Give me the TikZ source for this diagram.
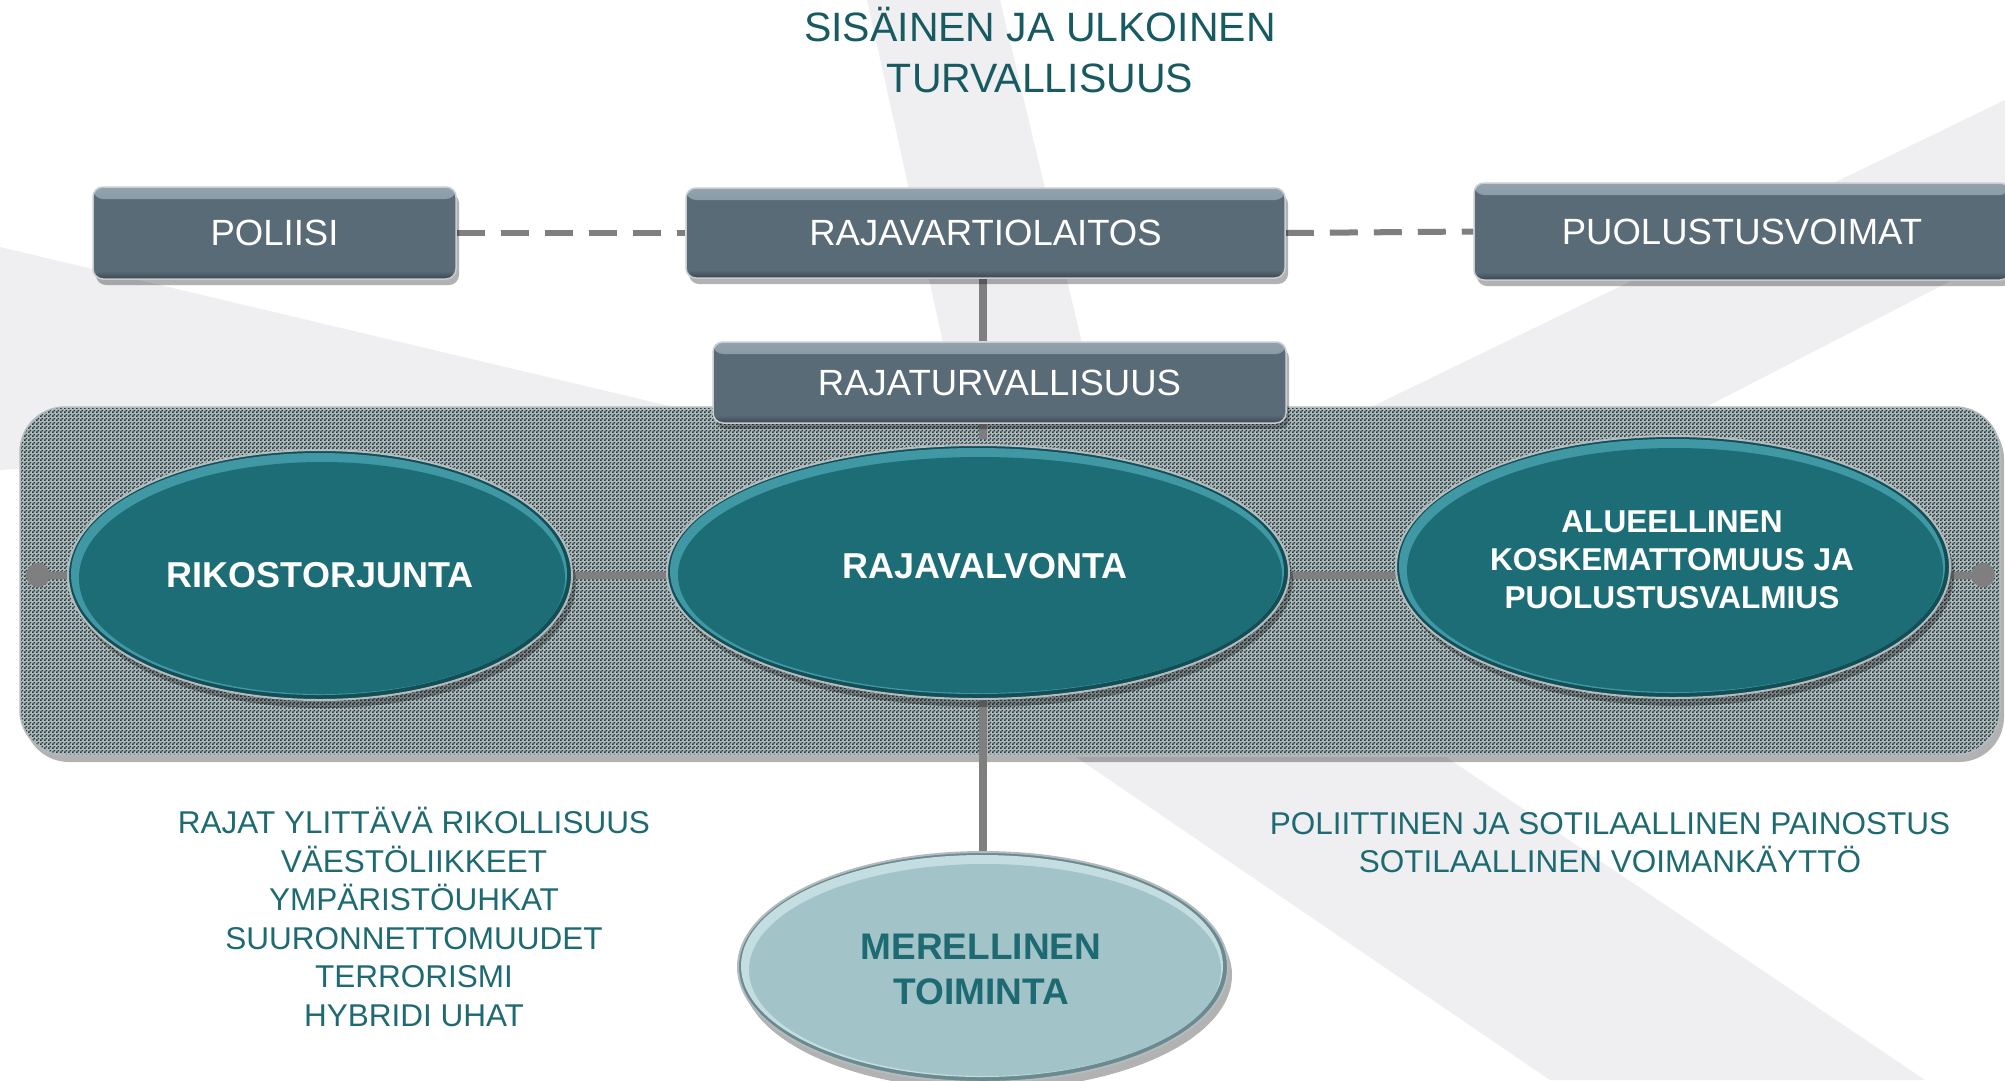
\documentclass[tikz,border=0pt]{standalone}
\usepackage{fontspec}
\setmainfont{Liberation Sans}
\usetikzlibrary{shapes.geometric,shadows,patterns}
\definecolor{slate}{HTML}{5A6B78}
\definecolor{slatehl}{HTML}{93A3AE}
\definecolor{slatedk}{HTML}{3A4650}
\definecolor{boxrim}{HTML}{C9CDD0}
\definecolor{tealbody}{HTML}{1D6D77}
\definecolor{tealhl}{HTML}{3F98A3}
\definecolor{tealdk}{HTML}{124E56}
\definecolor{rimgray}{HTML}{B3BBBE}
\definecolor{lightbody}{HTML}{A2C3C7}
\definecolor{lighthl}{HTML}{C4DDE0}
\definecolor{lightdk}{HTML}{6A8A90}
\definecolor{titleteal}{HTML}{175A62}
\definecolor{textteal}{HTML}{1E6A72}
\definecolor{bggray}{HTML}{EFEFF1}
\definecolor{checkdark}{HTML}{1A3B41}
\definecolor{checklight}{HTML}{B4B9BA}
\definecolor{connector}{HTML}{7F7F7F}
\pgfdeclarepatternformonly{finechecker}{\pgfqpoint{0pt}{0pt}}{\pgfqpoint{4pt}{4pt}}{\pgfqpoint{4pt}{4pt}}{%
  \pgfpathrectangle{\pgfqpoint{0pt}{0pt}}{\pgfqpoint{2pt}{2pt}}%
  \pgfpathrectangle{\pgfqpoint{2pt}{2pt}}{\pgfqpoint{2pt}{2pt}}%
  \pgfusepath{fill}}
\pgfdeclarelayer{back}
\pgfdeclarelayer{lines}
\pgfsetlayers{back,lines,main}
\newcommand{\bevelell}[7]{%
  \fill[black,opacity=.3] (#1+4,#2+8) ellipse [x radius=#3, y radius=#4];
  \filldraw[fill=#5,draw=rimgray,line width=2pt] (#1,#2) ellipse [x radius=#3, y radius=#4];
  \fill[#6] (#1-1,#2-1) ellipse [x radius=#3-4, y radius=#4-4];
  \fill[#7] (#1+2,#2+3) ellipse [x radius=#3-9, y radius=#4-9];
}
\tikzset{
  orgbox/.style={rectangle, rounded corners=10pt, fill=slate, draw=boxrim,
    line width=1.5pt, text=white, inner sep=0pt,
    font=\fontsize{36.5}{40}\selectfont,
    drop shadow={shadow xshift=3pt, shadow yshift=-6pt, opacity=.3, fill=black},
    path picture={
      \shade[top color=slatehl, bottom color=slate]
        (path picture bounding box.north west) rectangle ([yshift=-12pt]path picture bounding box.north east);
      \shade[top color=slate, bottom color=slatedk]
        ([yshift=8pt]path picture bounding box.south west) rectangle (path picture bounding box.south east);
    }},
  ellnode/.style={ellipse, inner sep=0pt, text=white, align=center,
    font=\bfseries\fontsize{36}{43}\selectfont},
  listtext/.style={text=textteal, align=center, inner sep=0pt,
    font=\fontsize{31.5}{38.6}\selectfont},
  dotnode/.style={circle, fill=connector, minimum size=24pt, inner sep=0pt},
  hconn/.style={draw=connector, line width=7pt},
  vconn/.style={draw=connector, line width=8pt},
  dashconn/.style={draw=connector, line width=6pt, dash pattern=on 28pt off 16pt},
}
\begin{document}
\begin{tikzpicture}[x=1pt,y=-1pt]
\useasboundingbox (0,0) rectangle (2005,1080);
\begin{pgfonlayer}{back}
  \fill[white] (0,0) rectangle (2005,1080);
  \fill[bggray] (0,247) -- (720,418) -- (0,470) -- cycle;
  \fill[bggray] (867,0) -- (1000,0) -- (1098,410) -- (958,410) -- cycle;
  \fill[bggray] (2005,100) -- (1365,410) -- (1700,410) -- (2005,253) -- cycle;
  \fill[bggray] (1076,757) -- (1446,757) -- (1925,1080) -- (1550,1080) -- cycle;
  % band
  \fill[black, opacity=.3, rounded corners=45pt] (24,414) rectangle (2004,762);
  \fill[checklight, rounded corners=45pt] (20,407) rectangle (2000,755);
  \fill[pattern=finechecker, pattern color=checkdark, rounded corners=45pt] (20,407) rectangle (2000,755);
  \draw[rimgray, line width=1.5pt, rounded corners=45pt] (20,407) rectangle (2000,755);
\end{pgfonlayer}

\coordinate (vx) at (983,0);

% title
\node[text=titleteal, align=center, inner sep=0pt, font=\fontsize{41}{51}\selectfont]
  (title) at (1040,50.5) {SISÄINEN JA ULKOINEN\\TURVALLISUUS};

% boxes
\node[orgbox, minimum width=363pt, minimum height=92pt] (pol) at (274.5,233) {POLIISI};
\node[orgbox, minimum width=599pt, minimum height=90pt] (rva) at (985.5,233) {RAJAVARTIOLAITOS};
\node[orgbox, minimum width=536pt, minimum height=97pt] (puo) at (1742,231.5) {PUOLUSTUSVOIMAT};
\node[orgbox, minimum width=573pt, minimum height=81pt] (rtu) at (999.5,382.5) {RAJATURVALLISUUS};

% end dots of horizontal line
\node[dotnode] (ldot) at (38,575) {};
\node[dotnode] (rdot) at (1983,575) {};

% ellipses
\bevelell{320}{575}{252}{125}{tealdk}{tealhl}{tealbody}
\bevelell{978}{572}{311}{127}{tealdk}{tealhl}{tealbody}
\bevelell{1673}{567}{277}{131}{tealdk}{tealhl}{tealbody}
\bevelell{983}{967}{245}{115}{lightdk}{lighthl}{lightbody}

\node[ellnode, minimum width=504pt, minimum height=250pt] (rik) at (320,575) {RIKOSTORJUNTA};
\node[ellnode, minimum width=622pt, minimum height=254pt] (rval) at (985,566) {RAJAVALVONTA};
\node[ellnode, minimum width=554pt, minimum height=262pt, font=\bfseries\fontsize{31.6}{38}\selectfont]
  (alue) at (1672,560) {ALUEELLINEN\\KOSKEMATTOMUUS JA\\PUOLUSTUSVALMIUS};
\node[ellnode, minimum width=490pt, minimum height=230pt, text=textteal,
  font=\bfseries\fontsize{37}{45}\selectfont] (mer) at (981,969.5) {MERELLINEN\\TOIMINTA};

% side texts
\node[listtext] (threats) at (414,917) {RAJAT YLITTÄVÄ RIKOLLISUUS\\VÄESTÖLIIKKEET\\YMPÄRISTÖUHKAT\\SUURONNETTOMUUDET\\TERRORISMI\\HYBRIDI UHAT};
\node[listtext] (military) at (1610,842.5) {POLIITTINEN JA SOTILAALLINEN PAINOSTUS\\SOTILAALLINEN VOIMANKÄYTTÖ};

% connectors
\begin{pgfonlayer}{lines}
  \draw[hconn] (ldot.center) -- (rdot.center);
  \draw[dashconn] (pol.east) -- (rva.west);
  \draw[dashconn] (rva.east) -- (puo.west);
  \draw[vconn] (rva.south -| vx) -- (rtu.north -| vx);
  \draw[vconn] (rtu.south -| vx) -- (rval.north -| vx);
  \draw[vconn] (rval.south -| vx) -- (mer.north -| vx);
\end{pgfonlayer}
\end{tikzpicture}
\end{document}
